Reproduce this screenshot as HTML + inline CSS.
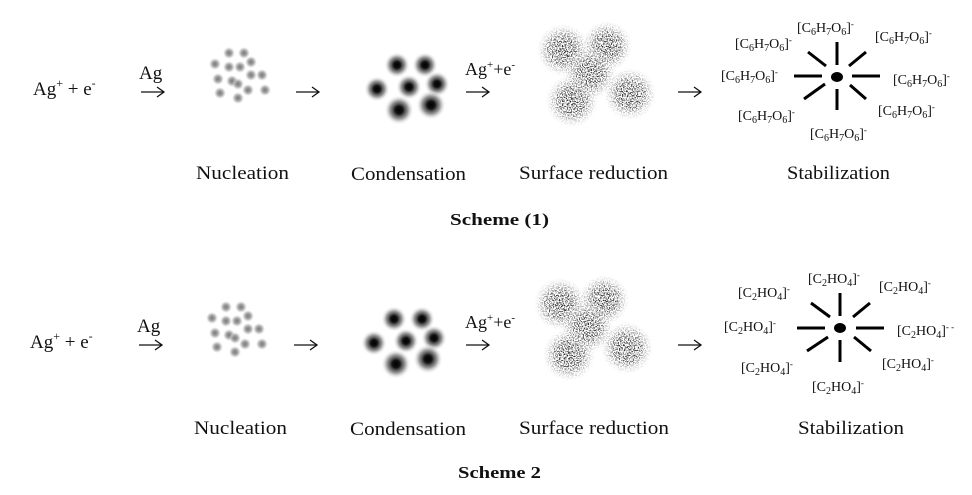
<!DOCTYPE html>
<html><head><meta charset="utf-8"><style>
html,body{margin:0;padding:0;background:#fff;}
svg{display:block;}
text{font-family:"Liberation Serif",serif;fill:#111;}
</style></head><body>
<svg width="972" height="495" viewBox="0 0 972 495" xmlns="http://www.w3.org/2000/svg">
<defs>
<radialGradient id="blob"><stop offset="0" stop-color="#000"/><stop offset="0.25" stop-color="#111"/><stop offset="0.6" stop-color="#555" stop-opacity="0.6"/><stop offset="1" stop-color="#fff" stop-opacity="0"/></radialGradient>
<radialGradient id="dot"><stop offset="0" stop-color="#777"/><stop offset="0.5" stop-color="#aaa"/><stop offset="1" stop-color="#ccc" stop-opacity="0"/></radialGradient>
<radialGradient id="cl"><stop offset="0" stop-color="#222"/><stop offset="0.5" stop-color="#555"/><stop offset="1" stop-color="#aaa" stop-opacity="0"/></radialGradient>
<filter id="noise" x="-20%" y="-20%" width="140%" height="140%">
<feTurbulence type="fractalNoise" baseFrequency="0.8" numOctaves="2" seed="3" result="t"/>
<feColorMatrix in="t" type="matrix" values="0 0 0 0 0  0 0 0 0 0  0 0 0 0 0  0 0 0 -9 4.6" result="m"/>
<feComposite in="SourceGraphic" in2="m" operator="in"/>
</filter>
<g id="nuc">
<g fill="url(#dot)">
<circle cx="229" cy="53" r="6"/><circle cx="244" cy="53" r="6"/><circle cx="215" cy="64" r="6"/><circle cx="229" cy="67" r="6"/><circle cx="240" cy="67" r="6"/><circle cx="251" cy="62" r="6"/><circle cx="218" cy="79" r="6"/><circle cx="232" cy="81" r="6"/><circle cx="251" cy="75" r="6"/><circle cx="262" cy="75" r="6"/><circle cx="238" cy="84" r="6"/><circle cx="248" cy="90" r="6"/><circle cx="220" cy="93" r="6"/><circle cx="238" cy="98" r="6"/><circle cx="265" cy="90" r="6"/>
</g></g>
<g id="cond" fill="url(#blob)">
<circle cx="397" cy="65" r="13"/><circle cx="425" cy="65" r="13"/><circle cx="377" cy="89" r="13"/><circle cx="409" cy="87" r="13"/><circle cx="437" cy="84" r="13"/><circle cx="399" cy="110" r="15"/><circle cx="431" cy="105" r="15"/>
</g>
<g id="surf" fill="url(#cl)" filter="url(#noise)">
<circle cx="563" cy="50" r="26"/><circle cx="607" cy="46" r="25"/><circle cx="590" cy="73" r="26"/><circle cx="572" cy="101" r="26"/><circle cx="630" cy="94" r="26"/>
</g>
<g id="arr" fill="none" stroke="#111" stroke-width="1.3"><path d="M0 0H22M16 -5L23 0L16 5"/></g>
</defs>

<!-- Scheme 1 -->
<text x="33" y="95" font-size="19">Ag<tspan font-size="12" dy="-8">+</tspan><tspan dy="8"> + e</tspan><tspan font-size="12" dy="-8">-</tspan></text>
<text x="139" y="79" font-size="19">Ag</text>
<use href="#arr" x="141" y="92"/>
<use href="#nuc"/>
<use href="#arr" x="296" y="92"/>
<use href="#cond"/>
<text x="465" y="75" font-size="18">Ag<tspan font-size="11" dy="-7">+</tspan><tspan dy="7">+e</tspan><tspan font-size="11" dy="-7">-</tspan></text>
<use href="#arr" x="466" y="92"/>
<use href="#surf"/>
<use href="#arr" x="678" y="92"/>
<g stroke="#000" stroke-width="3">
<line x1="837" y1="42" x2="837" y2="65"/><line x1="837" y1="89" x2="837" y2="110"/>
<line x1="794" y1="76" x2="822" y2="76"/><line x1="852" y1="76" x2="880" y2="76"/>
<line x1="808" y1="52" x2="826" y2="66"/><line x1="866" y1="52" x2="849" y2="66"/>
<line x1="804" y1="99" x2="825" y2="84"/><line x1="866" y1="99" x2="850" y2="85"/>
</g>
<ellipse cx="837" cy="77" rx="6" ry="5"/>
<g font-size="14">
<text x="797" y="32">[C<tspan font-size="10" dy="3">6</tspan><tspan dy="-3">H</tspan><tspan font-size="10" dy="3">7</tspan><tspan dy="-3">O</tspan><tspan font-size="10" dy="3">6</tspan><tspan dy="-3">]</tspan><tspan font-size="9" dy="-5">-</tspan></text>
<text x="735" y="48">[C<tspan font-size="10" dy="3">6</tspan><tspan dy="-3">H</tspan><tspan font-size="10" dy="3">7</tspan><tspan dy="-3">O</tspan><tspan font-size="10" dy="3">6</tspan><tspan dy="-3">]</tspan><tspan font-size="9" dy="-5">-</tspan></text>
<text x="875" y="41">[C<tspan font-size="10" dy="3">6</tspan><tspan dy="-3">H</tspan><tspan font-size="10" dy="3">7</tspan><tspan dy="-3">O</tspan><tspan font-size="10" dy="3">6</tspan><tspan dy="-3">]</tspan><tspan font-size="9" dy="-5">-</tspan></text>
<text x="721" y="80">[C<tspan font-size="10" dy="3">6</tspan><tspan dy="-3">H</tspan><tspan font-size="10" dy="3">7</tspan><tspan dy="-3">O</tspan><tspan font-size="10" dy="3">6</tspan><tspan dy="-3">]</tspan><tspan font-size="9" dy="-5">-</tspan></text>
<text x="893" y="84">[C<tspan font-size="10" dy="3">6</tspan><tspan dy="-3">H</tspan><tspan font-size="10" dy="3">7</tspan><tspan dy="-3">O</tspan><tspan font-size="10" dy="3">6</tspan><tspan dy="-3">]</tspan><tspan font-size="9" dy="-5">-</tspan></text>
<text x="738" y="120">[C<tspan font-size="10" dy="3">6</tspan><tspan dy="-3">H</tspan><tspan font-size="10" dy="3">7</tspan><tspan dy="-3">O</tspan><tspan font-size="10" dy="3">6</tspan><tspan dy="-3">]</tspan><tspan font-size="9" dy="-5">-</tspan></text>
<text x="878" y="115">[C<tspan font-size="10" dy="3">6</tspan><tspan dy="-3">H</tspan><tspan font-size="10" dy="3">7</tspan><tspan dy="-3">O</tspan><tspan font-size="10" dy="3">6</tspan><tspan dy="-3">]</tspan><tspan font-size="9" dy="-5">-</tspan></text>
<text x="810" y="138">[C<tspan font-size="10" dy="3">6</tspan><tspan dy="-3">H</tspan><tspan font-size="10" dy="3">7</tspan><tspan dy="-3">O</tspan><tspan font-size="10" dy="3">6</tspan><tspan dy="-3">]</tspan><tspan font-size="9" dy="-5">-</tspan></text>
</g>
<g font-size="19">
<text x="196" y="179" textLength="93" lengthAdjust="spacingAndGlyphs">Nucleation</text>
<text x="351" y="180" textLength="115" lengthAdjust="spacingAndGlyphs">Condensation</text>
<text x="519" y="179" textLength="149" lengthAdjust="spacingAndGlyphs">Surface reduction</text>
<text x="787" y="179" textLength="103" lengthAdjust="spacingAndGlyphs">Stabilization</text>
</g>
<text x="450" y="225" font-size="17" font-weight="bold" textLength="99" lengthAdjust="spacingAndGlyphs">Scheme (1)</text>

<!-- Scheme 2 -->
<text x="30" y="348" font-size="19">Ag<tspan font-size="12" dy="-8">+</tspan><tspan dy="8"> + e</tspan><tspan font-size="12" dy="-8">-</tspan></text>
<text x="137" y="332" font-size="19">Ag</text>
<use href="#arr" x="139" y="345"/>
<g transform="translate(-3,254)"><use href="#nuc"/><use href="#cond"/></g>
<use href="#arr" x="294" y="345"/>
<text x="465" y="328" font-size="18">Ag<tspan font-size="11" dy="-7">+</tspan><tspan dy="7">+e</tspan><tspan font-size="11" dy="-7">-</tspan></text>
<use href="#arr" x="466" y="345"/>
<g transform="translate(-3,254)"><use href="#surf"/></g>
<use href="#arr" x="678" y="345"/>
<g stroke="#000" stroke-width="3">
<line x1="840" y1="293" x2="840" y2="316"/><line x1="840" y1="340" x2="840" y2="362"/>
<line x1="797" y1="328" x2="825" y2="328"/><line x1="856" y1="328" x2="884" y2="328"/>
<line x1="811" y1="303" x2="830" y2="317"/><line x1="870" y1="303" x2="853" y2="317"/>
<line x1="807" y1="351" x2="828" y2="337"/><line x1="871" y1="351" x2="854" y2="337"/>
</g>
<ellipse cx="840" cy="328" rx="6" ry="5"/>
<g font-size="14">
<text x="808" y="283">[C<tspan font-size="10" dy="3">2</tspan><tspan dy="-3">HO</tspan><tspan font-size="10" dy="3">4</tspan><tspan dy="-3">]</tspan><tspan font-size="9" dy="-5">-</tspan></text>
<text x="738" y="297">[C<tspan font-size="10" dy="3">2</tspan><tspan dy="-3">HO</tspan><tspan font-size="10" dy="3">4</tspan><tspan dy="-3">]</tspan><tspan font-size="9" dy="-5">-</tspan></text>
<text x="879" y="291">[C<tspan font-size="10" dy="3">2</tspan><tspan dy="-3">HO</tspan><tspan font-size="10" dy="3">4</tspan><tspan dy="-3">]</tspan><tspan font-size="9" dy="-5">-</tspan></text>
<text x="724" y="331">[C<tspan font-size="10" dy="3">2</tspan><tspan dy="-3">HO</tspan><tspan font-size="10" dy="3">4</tspan><tspan dy="-3">]</tspan><tspan font-size="9" dy="-5">-</tspan></text>
<text x="897" y="335">[C<tspan font-size="10" dy="3">2</tspan><tspan dy="-3">HO</tspan><tspan font-size="10" dy="3">4</tspan><tspan dy="-3">]</tspan><tspan font-size="9" dy="-5">- -</tspan></text>
<text x="741" y="372">[C<tspan font-size="10" dy="3">2</tspan><tspan dy="-3">HO</tspan><tspan font-size="10" dy="3">4</tspan><tspan dy="-3">]</tspan><tspan font-size="9" dy="-5">-</tspan></text>
<text x="882" y="368">[C<tspan font-size="10" dy="3">2</tspan><tspan dy="-3">HO</tspan><tspan font-size="10" dy="3">4</tspan><tspan dy="-3">]</tspan><tspan font-size="9" dy="-5">-</tspan></text>
<text x="812" y="391">[C<tspan font-size="10" dy="3">2</tspan><tspan dy="-3">HO</tspan><tspan font-size="10" dy="3">4</tspan><tspan dy="-3">]</tspan><tspan font-size="9" dy="-5">-</tspan></text>
</g>
<g font-size="19">
<text x="194" y="434" textLength="93" lengthAdjust="spacingAndGlyphs">Nucleation</text>
<text x="350" y="435" textLength="116" lengthAdjust="spacingAndGlyphs">Condensation</text>
<text x="519" y="434" textLength="150" lengthAdjust="spacingAndGlyphs">Surface reduction</text>
<text x="798" y="434" textLength="106" lengthAdjust="spacingAndGlyphs">Stabilization</text>
</g>
<text x="458" y="478" font-size="17" font-weight="bold" textLength="83" lengthAdjust="spacingAndGlyphs">Scheme 2</text>
</svg>
</body></html>
